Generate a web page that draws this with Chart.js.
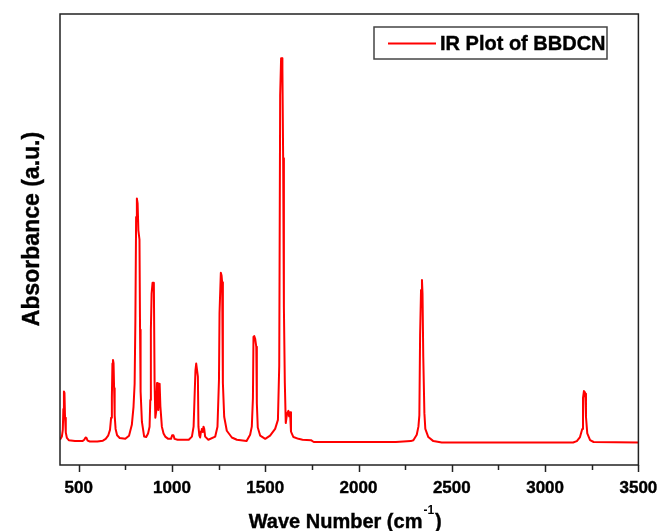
<!DOCTYPE html>
<html>
<head>
<meta charset="utf-8">
<script src="https://cdn.jsdelivr.net/npm/chart.js@4/dist/chart.umd.min.js"></script>
<style>
html,body{margin:0;padding:0;background:#fff;}
#c{display:block;}
</style>
</head>
<body>
<canvas id="c" width="657" height="531"></canvas>
<script>
const seriesLabel = 'IR Plot of BBDCN';
const xTitle = 'Wave Number (cm';
const xTitleSup = '-1';
const yTitle = 'Absorbance (a.u.)';
const xTickValues = [500,750,1000,1250,1500,1750,2000,2250,2500,2750,3000,3250,3500];
const xTickLabels = ['500','','1000','','1500','','2000','','2500','','3000','','3500'];

const wavenumbers = [
400,410,415,418,421,424,427,431,437,447,480,520,530,537,542,548,560,600,630,645,
658,668,674,678,681,684,687,690,693,698,706,720,750,770,785,794,800,804,808,812,
816,820,826,829,832,839,851,862,872,880,884,887,891,896,903,907,911,916,920,924,
927,931,934,938,946,955,964,980,995,1001,1008,1014,1030,1090,1107,1116,1121,1126,1130,1134,
1139,1142,1147,1151,1156,1160,1165,1169,1173,1178,1195,1232,1244,1252,1255,1262,1266,1269,1273,1280,
1294,1321,1348,1400,1419,1428,1434,1437,1441,1446,1452,1455,1460,1473,1500,1526,1553,1568,1575,1580,
1585,1590,1592,1596,1600,1605,1610,1614,1618,1624,1628,1630,1633,1638,1651,1678,1700,1745,1760,1900,
2200,2280,2294,2312,2321,2326,2330,2335,2340,2343,2347,2353,2358,2374,2401,2446,2800,3150,3170,3187,
3199,3203,3208,3212,3215,3219,3226,3241,3260,3500
];
const absorbance = [
5.6,6.3,7.8,12.4,16.3,16.0,10.5,7.2,6.0,5.5,5.3,5.3,5.6,6.1,6.0,5.4,5.2,5.2,5.4,5.8,
6.5,7.8,10.5,15,22.5,23.3,22.6,17,11,8,6.6,6.0,5.8,6.5,8.9,12.9,18,32,55,59.1,
58,52,50,30,16.3,9.6,6.3,6.2,7.0,8.5,14.4,30,38,40.4,40.4,18.2,10.5,12,18.2,16,
12.2,16,18.0,13,8.5,7,6.3,5.8,5.8,6.6,6.6,5.8,5.6,5.6,6.3,8.5,14.8,21,22.5,22.5,
19.6,8.5,6.5,6.1,7.5,8.0,7.3,8.5,8.0,6.3,5.6,6.3,8.5,18.8,33.7,42.6,42,40.5,18.2,10.7,
7.6,6.1,5.6,5.3,6.7,8.5,14.8,28.4,28.6,28,26.2,13.7,8.3,6.5,5.8,6.5,8,10,22,82,
90.2,90.2,88,68,35,18.2,9.3,10.5,11.5,12,10.8,11,11.7,7.4,6.2,5.8,5.6,5.5,5.1,5.1,
5.1,5.3,5.5,6.7,8.5,11,28.8,38.8,41,38,24,11.5,8,6.2,5.3,5.0,5.0,5.0,5.3,6.2,
8,14.8,16.4,16.2,15.8,10.7,7,5.5,5.1,5.0
];

const points = wavenumbers.map((w,i)=>({x:w, y:absorbance[i]}));
const FONT = '"Liberation Sans", Arial, sans-serif';

const decor = {
  id:'decor',
  afterDraw(chart){
    const {ctx, chartArea:a, scales:{x}} = chart;
    ctx.save();
    ctx.strokeStyle = '#222';
    ctx.lineWidth = 1.5;
    ctx.strokeRect(a.left, a.top, a.right-a.left, a.bottom-a.top);
    xTickValues.forEach((v,i)=>{
      const px = Math.round(x.getPixelForValue(v)) + 0.5;
      const len = xTickLabels[i] ? 7 : 5;
      ctx.beginPath();
      ctx.moveTo(px, a.bottom);
      ctx.lineTo(px, a.bottom + len);
      ctx.stroke();
    });
    ctx.fillStyle = '#000';
    ctx.strokeStyle = '#000';
    ctx.lineWidth = 0.4;
    ctx.textBaseline = 'alphabetic';
    ctx.font = 'bold 20px ' + FONT;
    const w1 = ctx.measureText(xTitle).width;
    ctx.font = 'bold 12px ' + FONT;
    const w2 = ctx.measureText(xTitleSup).width;
    ctx.font = 'bold 20px ' + FONT;
    const total = w1 + w2 + ctx.measureText(')').width + 2;
    const sx = (a.left + a.right)/2 - total/2 - 4;
    ctx.textAlign = 'left';
    ctx.fillText(xTitle, sx, 528); ctx.strokeText(xTitle, sx, 528);
    ctx.font = 'bold 12px ' + FONT;
    ctx.fillText(xTitleSup, sx + w1 + 1, 514);
    ctx.font = 'bold 20px ' + FONT;
    ctx.fillText(')', sx + w1 + w2 + 2, 528); ctx.strokeText(')', sx + w1 + w2 + 2, 528);
    ctx.save();
    ctx.translate(33, 229);
    ctx.rotate(-Math.PI/2);
    ctx.textAlign = 'center';
    ctx.textBaseline = 'middle';
    ctx.font = 'bold 23px ' + FONT;
    ctx.fillText(yTitle, 0, 0); ctx.strokeText(yTitle, 0, 0);
    ctx.restore();
    ctx.fillStyle = '#fff';
    ctx.fillRect(374, 27, 233, 32);
    ctx.strokeStyle = '#444';
    ctx.lineWidth = 1.5;
    ctx.strokeRect(374, 27, 233, 32);
    ctx.strokeStyle = '#ff0000';
    ctx.lineWidth = 2;
    ctx.beginPath();
    ctx.moveTo(388, 43.5);
    ctx.lineTo(436, 43.5);
    ctx.stroke();
    ctx.fillStyle = '#000';
    ctx.strokeStyle = '#000';
    ctx.lineWidth = 0.4;
    ctx.textAlign = 'left';
    ctx.textBaseline = 'alphabetic';
    ctx.font = 'bold 20px ' + FONT;
    ctx.fillText(chart.data.datasets[0].label, 440, 50);
    ctx.strokeText(chart.data.datasets[0].label, 440, 50);
    ctx.restore();
  }
};

new Chart(document.getElementById('c'), {
  type:'line',
  data:{datasets:[{
    label: seriesLabel,
    data: points,
    borderColor:'#ff0000',
    borderWidth:2,
    borderJoinStyle:'round',
    pointRadius:0,
    tension:0,
    fill:false
  }]},
  options:{
    responsive:false,
    animation:false,
    layout:{autoPadding:false, padding:{left:60, right:18.6, top:14, bottom:0}},
    plugins:{legend:{display:false}, tooltip:{enabled:false}},
    scales:{
      x:{
        type:'linear', min:400, max:3500,
        afterBuildTicks(scale){ scale.ticks = xTickValues.map(v=>({value:v})); },
        afterFit(scale){ scale.height = 66; scale.paddingLeft = 0; scale.paddingRight = 0; },
        border:{display:false},
        grid:{display:true, drawOnChartArea:false, drawTicks:true, tickLength:7, color:'rgba(0,0,0,0)', tickColor:'rgba(0,0,0,0)'},
        ticks:{
          autoSkip:false, maxRotation:0, padding:6, color:'#000',
          textStrokeWidth:0.4, textStrokeColor:'#000',
          font:{family:FONT, size:17, weight:'bold'},
          callback(v){ const i = xTickValues.indexOf(v); return i>=0 ? xTickLabels[i] : ''; }
        }
      },
      y:{ display:false, min:0, max:100 }
    }
  },
  plugins:[decor]
});
</script>
</body>
</html>
